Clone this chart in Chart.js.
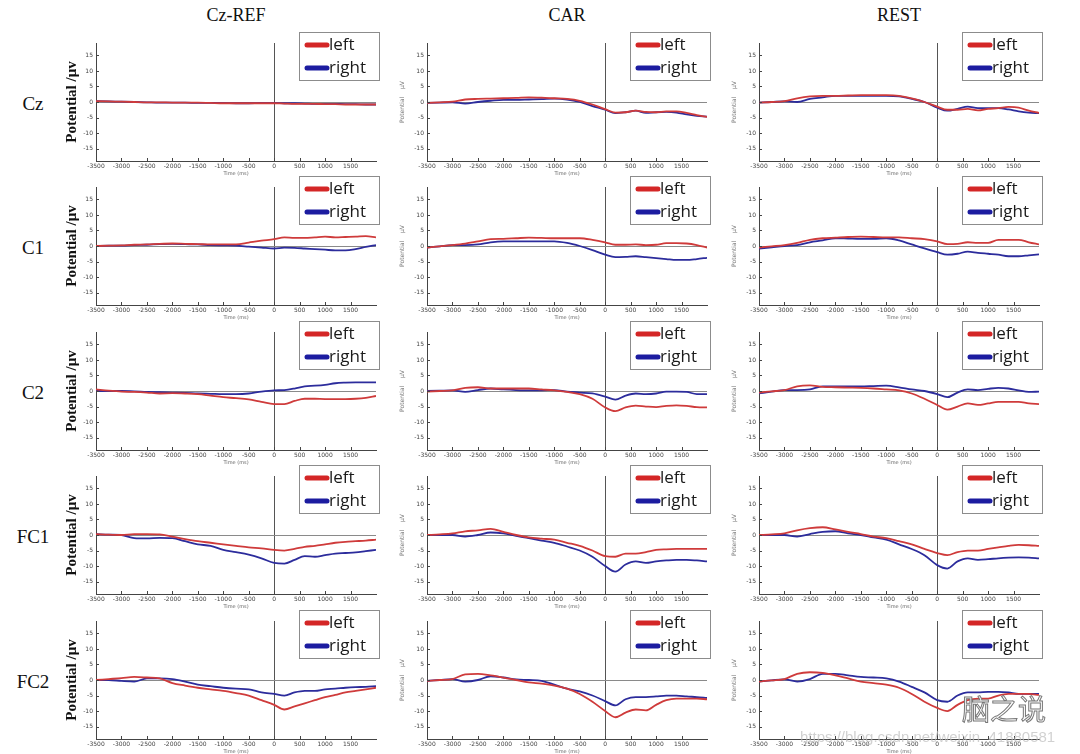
<!DOCTYPE html>
<html>
<head>
<meta charset="utf-8">
<script src="https://cdn.jsdelivr.net/npm/chart.js@4.4.0/dist/chart.umd.min.js"></script>
<style>
  body { margin: 0; background: #fff; width: 1080px; height: 754px; overflow: hidden; position: relative; font-family: "Liberation Serif", serif; }
  .panel { position: absolute; }
  .coltitle { position: absolute; top: 5px; font-size: 18px; color: #111; transform: translateX(-50%); }
  .rowlabel { position: absolute; font-size: 19px; color: #111; transform: translate(-50%, -50%); }
  .wm1 { position: absolute; left: 962px; top: 688px; font-family: "Noto Sans CJK SC", sans-serif; font-size: 28px; color: #fff; -webkit-text-stroke: 1px #777; }
  .wm2 { position: absolute; left: 800px; top: 728px; font-family: "Liberation Sans", sans-serif; font-size: 15px; color: rgba(190,190,190,0.7); }
</style>
</head>
<body>
<script>
// time axis (ms) shared by all panels
const timeMs = [-3500, -3250, -3000, -2750, -2500, -2250, -2000, -1750, -1500, -1250, -1000, -750, -500, -250, 0, 200, 400, 600, 800, 1000, 1200, 1400, 1600, 1800, 2000];
const xTickValues = [-3500, -3000, -2500, -2000, -1500, -1000, -500, 0, 500, 1000, 1500];
const yTickValues = [-15, -10, -5, 0, 5, 10, 15];
const rowNames = ['Cz', 'C1', 'C2', 'FC1', 'FC2'];
const refNames = ['Cz-REF', 'CAR', 'REST'];
const seriesNames = ['left', 'right'];

// Cz
const czCzrefLeft  = [0.3, 0.2, 0.1, 0, -0.1, -0.1, -0.2, -0.2, -0.2, -0.3, -0.4, -0.4, -0.4, -0.4, -0.4, -0.5, -0.6, -0.6, -0.6, -0.7, -0.7, -0.8, -0.8, -0.8, -0.8];
const czCzrefRight = [0.3, 0.2, 0.1, 0, -0.1, -0.2, -0.2, -0.2, -0.3, -0.3, -0.3, -0.4, -0.4, -0.3, -0.3, -0.4, -0.4, -0.5, -0.6, -0.6, -0.6, -0.7, -0.7, -0.8, -0.8];
const czCarLeft    = [-0.3, -0.1, 0.1, 0.8, 1.0, 1.1, 1.2, 1.3, 1.5, 1.4, 1.2, 1.0, 0.4, -0.8, -2.3, -3.4, -3.3, -2.8, -3.2, -3.3, -3.0, -3.0, -3.5, -4.2, -4.8];
const czCarRight   = [-0.3, -0.2, -0.1, -0.5, 0, 0.4, 0.7, 0.7, 0.8, 0.9, 1.1, 0.8, 0, -1.3, -2.5, -3.6, -3.3, -2.8, -3.5, -3.3, -3.2, -3.4, -4.0, -4.5, -4.7];
const czRestLeft   = [-0.2, 0, 0.3, 1.2, 1.8, 2.0, 2.0, 2.1, 2.2, 2.2, 2.2, 2.0, 1.2, 0, -1.5, -2.5, -2.5, -2.2, -2.7, -2.2, -2.0, -1.6, -1.8, -2.8, -3.5];
const czRestRight  = [-0.2, 0, 0.2, 0, 1.0, 1.5, 2.0, 2.0, 2.0, 2.0, 2.0, 1.8, 1.0, 0, -1.8, -2.8, -2.2, -1.5, -2.0, -2.0, -2.0, -2.4, -3.0, -3.4, -3.6];

// C1
const c1CzrefLeft  = [0, 0.1, 0.2, 0.4, 0.5, 0.7, 0.8, 0.7, 0.6, 0.5, 0.5, 0.5, 1.1, 1.7, 2.2, 2.8, 2.6, 2.6, 2.8, 3.0, 2.8, 2.9, 3.0, 3.2, 2.8];
const c1CzrefRight = [0, 0.1, 0.1, 0.3, 0.4, 0.6, 0.7, 0.6, 0.5, 0.3, 0.2, 0.1, -0.2, -0.5, -0.8, -0.5, -0.6, -0.8, -1.0, -1.2, -1.4, -1.4, -1.0, -0.3, 0.3];
const c1CarLeft    = [-0.5, -0.1, 0.3, 0.8, 1.5, 2.2, 2.3, 2.5, 2.7, 2.6, 2.5, 2.5, 2.5, 2.0, 1.2, 0.4, 0.4, 0.5, 0.3, 0.4, 0.9, 0.9, 0.8, 0.3, -0.5];
const c1CarRight   = [-0.5, -0.1, 0.3, 0.3, 0.5, 1.2, 1.5, 1.5, 1.5, 1.5, 1.5, 1.0, 0, -1.3, -2.8, -3.6, -3.5, -3.3, -3.6, -3.9, -4.2, -4.5, -4.5, -4.2, -3.8];
const c1RestLeft   = [-0.5, -0.1, 0.3, 1.0, 2.0, 2.5, 2.7, 2.9, 3.0, 2.9, 2.8, 2.8, 2.5, 2.2, 1.5, 0.6, 0.7, 1.2, 1.0, 1.0, 2.0, 2.0, 2.0, 1.2, 0.5];
const c1RestRight  = [-0.8, -0.4, 0, 0.3, 1.2, 1.8, 2.5, 2.4, 2.3, 2.3, 2.5, 1.8, 0.5, -0.8, -2.0, -2.8, -2.5, -1.8, -2.2, -2.5, -2.8, -3.3, -3.3, -3.0, -2.7];

// C2
const c2CzrefLeft  = [0.5, 0.1, -0.2, -0.3, -0.5, -0.8, -0.7, -0.8, -1.0, -1.5, -2.0, -2.3, -2.7, -3.5, -4.2, -4.2, -3.2, -2.5, -2.5, -2.6, -2.6, -2.6, -2.5, -2.2, -1.6];
const c2CzrefRight = [0, 0, 0, -0.1, -0.3, -0.4, -0.5, -0.6, -0.8, -0.9, -1.0, -1.0, -0.8, -0.2, 0.2, 0.3, 0.8, 1.5, 1.7, 2.0, 2.5, 2.7, 2.8, 2.8, 2.8];
const c2CarLeft    = [-0.2, 0, 0.2, 1.0, 1.2, 0.8, 0.8, 0.8, 0.8, 0.5, 0.2, -0.3, -1.0, -2.5, -5.3, -6.5, -5.3, -4.7, -5.0, -5.2, -4.8, -4.6, -4.8, -5.2, -5.3];
const c2CarRight   = [0, 0.1, 0.2, -0.3, 0.3, 0.8, 0.5, 0.3, 0.2, 0.2, 0.3, -0.2, -0.5, -0.8, -1.8, -2.8, -1.5, -0.8, -1.0, -0.8, -0.2, -0.2, -0.3, -1.0, -1.0];
const c2RestLeft   = [-0.5, -0.1, 0.3, 1.5, 1.8, 1.3, 1.2, 1.1, 1.0, 0.8, 0.5, 0.2, -0.8, -2.5, -4.5, -6.0, -5.0, -4.0, -4.5, -4.0, -3.5, -3.5, -3.5, -4.0, -4.2];
const c2RestRight  = [-0.8, -0.2, 0.3, 0.3, 0.5, 1.5, 1.5, 1.5, 1.5, 1.6, 1.7, 1.2, 0.5, 0, -1.0, -2.0, -0.5, 0.5, 0.3, 0.7, 1.0, 0.8, 0.2, -0.3, -0.2];

// FC1
const fc1CzrefLeft  = [0.3, 0.1, 0, 0.3, 0.3, 0.2, -0.5, -1.3, -2.0, -2.5, -3.0, -3.5, -4.0, -4.3, -4.8, -5.0, -4.5, -3.8, -3.5, -3.0, -2.5, -2.2, -2.0, -1.8, -1.5];
const fc1CzrefRight = [0.3, 0.1, 0, -1.0, -1.1, -0.9, -1.0, -2.0, -3.0, -3.5, -4.8, -5.5, -6.3, -7.5, -9.0, -9.2, -8.0, -6.8, -7.0, -6.5, -6.0, -5.8, -5.6, -5.2, -4.8];
const fc1CarLeft    = [0, 0.2, 0.5, 1.2, 1.5, 2.0, 1.0, 0, -0.8, -1.2, -1.5, -2.5, -3.5, -5.0, -6.8, -7.0, -6.0, -6.0, -5.5, -4.8, -4.6, -4.5, -4.5, -4.5, -4.5];
const fc1CarRight   = [0, 0, 0, -0.5, 0, 0.8, 0.5, -0.3, -1.0, -1.8, -2.5, -3.7, -5.0, -7.0, -10.0, -11.8, -9.5, -8.5, -9.0, -8.5, -8.2, -8.0, -8.0, -8.2, -8.5];
const fc1RestLeft   = [0, 0.2, 0.5, 1.5, 2.2, 2.5, 1.8, 1.0, 0.3, -0.5, -1.0, -2.0, -3.0, -4.5, -5.8, -6.5, -5.5, -5.0, -5.0, -4.5, -4.0, -3.5, -3.2, -3.3, -3.5];
const fc1RestRight  = [0, 0, 0, -0.5, 0.3, 1.0, 1.2, 0.5, 0, -0.8, -1.5, -3.0, -4.5, -6.5, -9.7, -10.8, -8.5, -7.5, -8.0, -7.8, -7.5, -7.3, -7.2, -7.3, -7.5];

// FC2
const fc2CzrefLeft  = [0, 0.3, 0.6, 1.0, 0.8, 0.5, -1.0, -1.8, -2.5, -3.0, -3.5, -4.2, -5.0, -6.5, -8.0, -9.5, -8.5, -7.5, -6.5, -5.5, -4.8, -4.0, -3.5, -3.0, -2.5];
const fc2CzrefRight = [0, 0, -0.3, -0.5, 0.5, 0.5, 0.3, -0.5, -1.5, -2.0, -2.5, -2.8, -3.0, -4.0, -4.5, -5.0, -4.0, -3.5, -3.5, -3.0, -2.8, -2.5, -2.3, -2.2, -2.0];
const fc2CarLeft    = [-0.3, 0, 0.3, 1.8, 2.0, 1.5, 0.8, 0, -0.8, -1.2, -1.8, -2.8, -4.5, -7.0, -10.0, -12.0, -10.5, -9.5, -9.8, -8.0, -6.5, -6.0, -6.0, -6.0, -6.2];
const fc2CarRight   = [-0.3, 0, 0.3, -0.5, 0, 1.2, 0.8, 0.2, 0, -0.3, -1.5, -2.8, -3.7, -5.0, -6.8, -8.2, -6.2, -5.5, -5.5, -5.3, -5.0, -5.0, -5.3, -5.5, -5.8];
const fc2RestLeft   = [-0.5, -0.1, 0.3, 2.0, 2.5, 2.3, 1.5, 0.5, -0.5, -1.0, -1.5, -2.5, -4.5, -7.0, -9.0, -10.0, -8.0, -6.5, -6.0, -6.0, -5.0, -4.5, -4.5, -4.5, -4.8];
const fc2RestRight  = [-0.5, -0.1, 0.2, -0.5, 0.3, 2.0, 2.0, 1.5, 1.0, 0.8, 0.5, -0.5, -2.2, -4.0, -6.5, -7.0, -5.0, -4.0, -4.0, -3.8, -3.8, -4.0, -4.5, -4.5, -4.5];

// rows x refs, each [left, right]
const panelData = [
  [[czCzrefLeft, czCzrefRight], [czCarLeft, czCarRight], [czRestLeft, czRestRight]],
  [[c1CzrefLeft, c1CzrefRight], [c1CarLeft, c1CarRight], [c1RestLeft, c1RestRight]],
  [[c2CzrefLeft, c2CzrefRight], [c2CarLeft, c2CarRight], [c2RestLeft, c2RestRight]],
  [[fc1CzrefLeft, fc1CzrefRight], [fc1CarLeft, fc1CarRight], [fc1RestLeft, fc1RestRight]],
  [[fc2CzrefLeft, fc2CzrefRight], [fc2CarLeft, fc2CarRight], [fc2RestLeft, fc2RestRight]]
];

// layout
const colLeft = [96, 427, 759];
const rowZero = [102, 246, 391, 535, 680];
const PW = 280, PH = 118;
const PAD_L = 50, PAD_T = 16, PAD_R = 14, PAD_B = 24;
const lineColors = ['#cf3b3b', '#2c2c9c'];
const legendColors = ['#d42626', '#1c1ca0'];

// legend with a frame, drawn top right like the matlab one
const boxLegend = {
  id: 'boxLegend',
  afterDraw(chart) {
    const { ctx, chartArea } = chart;
    const w = 80, h = 48;
    const x = chartArea.right + 3 - w, y = chartArea.top - 11;
    ctx.save();
    ctx.fillStyle = '#fff';
    ctx.fillRect(x, y, w, h);
    ctx.strokeStyle = '#8c8c8c';
    ctx.lineWidth = 1;
    ctx.strokeRect(x + 0.5, y + 0.5, w, h);
    chart.data.datasets.forEach((ds, i) => {
      const ly = y + 13 + i * 23;
      ctx.strokeStyle = legendColors[i];
      ctx.lineWidth = 5;
      ctx.lineCap = 'round';
      ctx.beginPath();
      ctx.moveTo(x + 8, ly);
      ctx.lineTo(x + 28, ly);
      ctx.stroke();
      ctx.fillStyle = '#1a1a1a';
      ctx.font = '17px "Open Sans"';
      ctx.textBaseline = 'middle';
      ctx.fillText(ds.label, x + 30, ly);
    });
    ctx.restore();
  }
};

// small inward tick marks
const innerTicks = {
  id: 'innerTicks',
  afterDatasetsDraw(chart) {
    const { ctx, scales: { x, y } } = chart;
    ctx.save();
    ctx.strokeStyle = '#444';
    ctx.lineWidth = 1;
    ctx.beginPath();
    y.ticks.forEach(t => {
      const py = Math.round(y.getPixelForValue(t.value)) + 0.5;
      ctx.moveTo(y.right, py);
      ctx.lineTo(y.right + 3, py);
    });
    x.ticks.forEach(t => {
      const px = Math.round(x.getPixelForValue(t.value)) + 0.5;
      ctx.moveTo(px, x.top);
      ctx.lineTo(px, x.top - 3);
    });
    ctx.stroke();
    ctx.restore();
  }
};

// headers
refNames.forEach((name, c) => {
  const d = document.createElement('div');
  d.className = 'coltitle';
  d.style.left = (colLeft[c] + PW / 2) + 'px';
  d.textContent = name;
  document.body.appendChild(d);
});
rowNames.forEach((name, r) => {
  const d = document.createElement('div');
  d.className = 'rowlabel';
  d.style.left = '33px';
  d.style.top = (rowZero[r] + 2) + 'px';
  d.textContent = name;
  document.body.appendChild(d);
});

rowNames.forEach((row, r) => {
  refNames.forEach((ref, c) => {
    const box = document.createElement('div');
    box.className = 'panel';
    box.style.left = (colLeft[c] - PAD_L) + 'px';
    box.style.top = (rowZero[r] - PH / 2 - PAD_T) + 'px';
    const cv = document.createElement('canvas');
    cv.width = PAD_L + PW + PAD_R;
    cv.height = PAD_T + PH + PAD_B;
    box.appendChild(cv);
    document.body.appendChild(box);

    const isFirst = c === 0;
    new Chart(cv, {
      type: 'line',
      data: {
        datasets: seriesNames.map((name, i) => ({
          label: name,
          data: timeMs.map((t, k) => ({ x: t, y: panelData[r][c][i][k] })),
          borderColor: lineColors[i],
          borderWidth: 1.8,
          pointRadius: 0,
          fill: false,
          cubicInterpolationMode: 'monotone'
        }))
      },
      options: {
        responsive: false,
        animation: false,
        layout: { padding: { left: 0, top: PAD_T, right: PAD_R, bottom: 0 } },
        plugins: { legend: { display: false }, tooltip: { enabled: false } },
        scales: {
          x: {
            type: 'linear',
            min: -3500,
            max: 2000,
            afterBuildTicks: s => { s.ticks = xTickValues.map(v => ({ value: v })); },
            afterFit: s => { s.height = PAD_B; },
            ticks: {
              autoSkip: false,
              maxRotation: 0,
              padding: 2,
              color: '#444',
              font: { family: 'DejaVu Sans', size: 6 },
              callback: v => String(v)
            },
            grid: {
              drawTicks: false,
              color: ctx => (ctx.tick && ctx.tick.value === 0) ? '#555' : 'rgba(0,0,0,0)'
            },
            border: { display: true, color: '#444', width: 1 },
            title: {
              display: true,
              text: 'Time (ms)',
              color: '#666',
              font: { family: 'DejaVu Sans', size: 5 },
              padding: { top: 0, bottom: 8 }
            }
          },
          y: {
            min: -19,
            max: 19,
            afterBuildTicks: s => { s.ticks = yTickValues.map(v => ({ value: v })); },
            afterFit: s => { s.width = PAD_L; },
            ticks: {
              padding: 3,
              color: '#444',
              font: { family: 'DejaVu Sans', size: 6 }
            },
            grid: {
              drawTicks: false,
              color: ctx => (ctx.tick && ctx.tick.value === 0) ? '#8a8a8a' : 'rgba(0,0,0,0)'
            },
            border: { display: true, color: '#444', width: 1 },
            title: isFirst ? {
              display: true,
              text: 'Potential /μv',
              color: '#111',
              font: { family: 'Liberation Serif', size: 15, weight: 'bold' },
              padding: { top: 17, bottom: 0 }
            } : {
              display: true,
              text: 'Potential    μV',
              color: '#777',
              font: { family: 'DejaVu Sans', size: 6 },
              padding: { top: 22, bottom: 0 }
            }
          }
        }
      },
      plugins: [boxLegend, innerTicks]
    });
  });
});

// watermark text found on the picture
const wm1 = document.createElement('div');
wm1.className = 'wm1';
wm1.textContent = '脑之说';
document.body.appendChild(wm1);
const wm2 = document.createElement('div');
wm2.className = 'wm2';
wm2.textContent = 'https://blog.csdn.net/weixin_41880581';
document.body.appendChild(wm2);
</script>
</body>
</html>
